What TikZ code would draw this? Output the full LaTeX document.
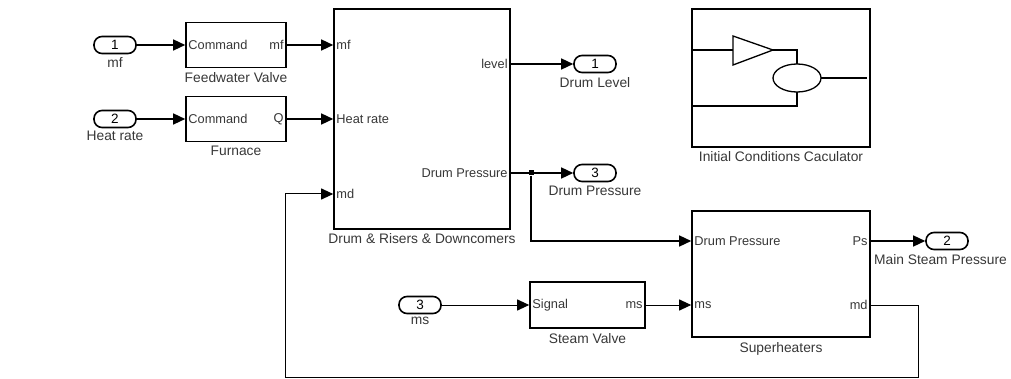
\documentclass[tikz,border=0pt]{standalone}
\usepackage{fontspec}
\setmainfont{Liberation Sans}
\usetikzlibrary{arrows.meta, calc, positioning}
\definecolor{lblgray}{RGB}{55,55,55}

\begin{document}
\begin{tikzpicture}[x=1pt, y=-1pt, >={Triangle[length=12pt,width=11pt]},
    block/.style={draw, line width=1.6pt, inner sep=0pt},
    portpill/.style={draw, line width=1.6pt, rounded corners=8pt, minimum width=42pt, minimum height=17pt, inner sep=0pt, font=\fontsize{13.5}{13.5}\selectfont},
    portlbl/.style={font=\fontsize{12.8}{13}\selectfont, inner sep=3pt, text=lblgray},
    blocklbl/.style={font=\fontsize{13.8}{14}\selectfont, inner sep=1pt, text=lblgray},
    wire/.style={line width=1.4pt},
    thinwire/.style={line width=1pt}]
    \useasboundingbox (0,0) rectangle (1011,379);

    % Inports
    \node[portpill] (in1) at (115,45) {1};
    \node[blocklbl, below=2pt of in1] (in1-lbl) {mf};
    \node[portpill] (in2) at (115,119) {2};
    \node[blocklbl, below=2pt of in2] (in2-lbl) {Heat rate};
    \node[portpill] (in3) at (420,305) {3};
    \node[blocklbl, below=2pt of in3] (in3-lbl) {ms};

    % Feedwater valve and furnace
    \node[block, minimum width=100pt, minimum height=45pt] (fwv) at (236,45) {};
    \node[portlbl, anchor=west] (fwv-in) at (fwv.west) {Command};
    \node[portlbl, anchor=east] (fwv-out) at (fwv.east) {mf};
    \node[blocklbl, below=3pt of fwv] (fwv-lbl) {Feedwater Valve};
    \node[block, minimum width=100pt, minimum height=45pt] (furn) at (236,119) {};
    \node[portlbl, anchor=west] (furn-in) at (furn.west) {Command};
    \node[portlbl, anchor=east] (furn-out) at (furn.east) {Q};
    \node[blocklbl, below=3pt of furn] (furn-lbl) {Furnace};

    % Drum
    \node[block, minimum width=176pt, minimum height=220pt] (drum) at (422,119) {};
    \coordinate (drum-mf) at (drum.west |- fwv);
    \coordinate (drum-q) at (drum.west |- furn);
    \coordinate (drum-md) at ($(drum.west)+(0,75)$);
    \coordinate (drum-lv) at ($(drum.east)+(0,-55)$);
    \coordinate (drum-dp) at ($(drum.east)+(0,54)$);
    \node[portlbl, anchor=west] (drum-mf-lbl) at (drum-mf) {mf};
    \node[portlbl, anchor=west] (drum-q-lbl) at (drum-q) {Heat rate};
    \node[portlbl, anchor=west] (drum-md-lbl) at (drum-md) {md};
    \node[portlbl, anchor=east] (drum-lv-lbl) at (drum-lv) {level};
    \node[portlbl, anchor=east] (drum-dp-lbl) at (drum-dp) {Drum Pressure};
    \node[blocklbl, below=3pt of drum] (drum-lbl) {Drum \& Risers \& Downcomers};

    % Outports of the drum
    \node[portpill] (out1) at (595,64) {1};
    \node[blocklbl, below=3pt of out1] (out1-lbl) {Drum Level};
    \node[portpill] (out3) at (595,173) {3};
    \node[blocklbl, below=3pt of out3] (out3-lbl) {Drum Pressure};
    \node[fill, minimum size=5pt, inner sep=0pt] (jn) at (531,173) {};

    % Initial conditions
    \node[block, minimum width=178pt, minimum height=138pt] (ic) at (781,78) {};
    \node[blocklbl, below=3pt of ic] (ic-lbl) {Initial Conditions Caculator};
    \draw[line width=1.3pt] (733,36) -- (773,50) -- (733,65) -- cycle;
    \draw[line width=1.3pt] (797,78) ellipse [x radius=24pt, y radius=14pt];
    \draw[line width=1.3pt] (692,50) -- (733,50);
    \draw[line width=1.3pt] (773,50) -- (797,50) -- (797,64);
    \draw[line width=1.3pt] (821,78) -- (867,78);
    \draw[line width=1.3pt] (797,92) -- (797,106) -- (692,106);

    % Steam valve and superheaters
    \node[block, minimum width=115pt, minimum height=46pt] (sv) at (587.5,305) {};
    \node[portlbl, anchor=west] (sv-in) at (sv.west) {Signal};
    \node[portlbl, anchor=east] (sv-out) at (sv.east) {ms};
    \node[blocklbl, below=3pt of sv] (sv-lbl) {Steam Valve};
    \node[block, minimum width=178pt, minimum height=126pt] (sh) at (781,274) {};
    \coordinate (sh-dp) at ($(sh.west)+(0,-33)$);
    \coordinate (sh-ms) at (sh.west |- sv);
    \coordinate (sh-ps) at ($(sh.east)+(0,-33)$);
    \coordinate (sh-md) at (sh.east |- sv);
    \node[portlbl, anchor=west] (sh-dp-lbl) at (sh-dp) {Drum Pressure};
    \node[portlbl, anchor=west] (sh-ms-lbl) at (sh-ms) {ms};
    \node[portlbl, anchor=east] (sh-ps-lbl) at (sh-ps) {Ps};
    \node[portlbl, anchor=east] (sh-md-lbl) at (sh-md) {md};
    \node[blocklbl, below=3pt of sh] (sh-lbl) {Superheaters};
    \node[portpill] (out2) at (947,241) {2};
    \node[blocklbl, anchor=north east] (out2-lbl) at ($(out2.south)+(61,3)$) {Main Steam Pressure};

    % Signals
    \draw[wire,->] (in1.east) -- (fwv.west);
    \draw[wire,->] (in2.east) -- (furn.west);
    \draw[wire,->] (fwv.east) -- (drum-mf);
    \draw[wire,->] (furn.east) -- (drum-q);
    \draw[wire,->] (drum-lv) -- (out1.west);
    \draw[wire,->] (drum-dp) -- (out3.west);
    \draw[wire,->] (jn) |- (sh-dp);
    \draw[wire,->] (sh-ps) -- (out2.west);
    \draw[thinwire,->] (in3.east) -- (sv.west);
    \draw[thinwire,->] (sv.east) -- (sh-ms);

    % md feedback
    \coordinate (fb-r) at (918,377);
    \coordinate (fb-l) at (285,377);
    \draw[thinwire,->] (sh-md) -| (fb-r) -- (fb-l) |- (drum-md);
\end{tikzpicture}
\end{document}
